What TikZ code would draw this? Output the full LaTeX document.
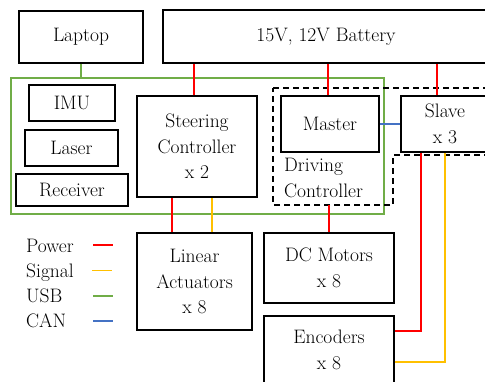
\documentclass[tikz,border=0pt]{standalone}
\usetikzlibrary{calc}
\definecolor{pwrc}{HTML}{FF0000}
\definecolor{sigc}{HTML}{FFC000}
\definecolor{usbc}{HTML}{70AD47}
\definecolor{canc}{HTML}{4472C4}
\tikzset{
  box/.style={draw=black, line width=1.5pt, inner sep=0pt, align=center, font=\fontsize{19.5}{25.5}\selectfont},
  txt/.style={inner sep=0pt, align=left, font=\fontsize{19.5}{25.5}\selectfont},
  pw/.style={draw=pwrc, line width=1.3pt},
  sg/.style={draw=sigc, line width=1.3pt},
  usb/.style={draw=usbc, line width=1.3pt},
  can/.style={draw=canc, line width=1.3pt},
  dbox/.style={draw=black, line width=1.5pt, dash pattern=on 6pt off 4pt}
}
\begin{document}
\begin{tikzpicture}[x=1pt,y=-1pt]
\useasboundingbox (0,0) rectangle (485,381);
\clip (0,0) rectangle (485,381);
\fill[white] (0,0) rectangle (485,381);
% USB area
\node[draw=usbc, line width=1.3pt, minimum width=373pt, minimum height=136pt, inner sep=0pt] (usbbox) at (197.5,146) {};
% driving controller dashed outline
\draw[dbox] (273,88) -- (500,88);
\draw[dbox] (500,155) -- (393,155) -- (393,205) -- (273,205) -- (273,88);
\coordinate (dcb) at (329,205);
% boxes
\node[box, minimum width=124pt, minimum height=52pt] (laptop) at (81,37) {Laptop};
\node[box, minimum width=326pt, minimum height=53pt] (batt) at (326,36.5) {15V, 12V Battery};
\node[box, minimum width=86pt, minimum height=36pt] (imu) at (72,103) {IMU};
\node[box, minimum width=93pt, minimum height=36pt] (laser) at (71.5,148) {Laser};
\node[box, minimum width=112pt, minimum height=32pt] (recv) at (72,190) {Receiver};
\node[box, minimum width=120pt, minimum height=101pt] (steer) at (197,146.5) {Steering\\Controller\\x 2};
\node[box, minimum width=98pt, minimum height=56pt] (master) at (330,124) {Master};
\node[box, minimum width=88pt, minimum height=56pt] (slave) at (445,124) {Slave\\x 3};
\node[txt, anchor=west] (dctext) at (284,178) {Driving\\Controller};
\node[box, minimum width=115pt, minimum height=97pt] (la) at (194.5,281.5) {Linear\\Actuators\\x 8};
\node[box, minimum width=130pt, minimum height=70pt] (dc) at (329,268) {DC Motors\\x 8};
\node[box, minimum width=130pt, minimum height=68pt] (enc) at (329,350) {Encoders\\x 8};
% connectors
\draw[usb] (laptop.south) -- (laptop.south |- usbbox.north);
\draw[pw] ([xshift=-3pt]steer.north) -- ([xshift=-3pt]steer.north |- batt.south);
\draw[pw] ([xshift=-2pt]master.north) -- ([xshift=-2pt]master.north |- batt.south);
\draw[pw] ([xshift=-8pt]slave.north) -- ([xshift=-8pt]slave.north |- batt.south);
\draw[can] (master.east) -- (slave.west);
\draw[pw] ([xshift=-22.5pt]la.north) -- ([xshift=-22.5pt]la.north |- steer.south);
\draw[sg] ([xshift=17.5pt]la.north) -- ([xshift=17.5pt]la.north |- steer.south);
\draw[pw] (dc.north) -- (dc.north |- dcb);
\draw[pw] ([xshift=-24pt]slave.south) |- ([yshift=19pt]enc.east);
\draw[sg] (slave.south) |- ([yshift=-12pt]enc.east);
% legend
\node[txt, anchor=base west] (lpw) at (26,252) {Power};
\node[txt, anchor=base west] (lsg) at (26,277) {Signal};
\node[txt, anchor=base west] (lusb) at (26,302) {USB};
\node[txt, anchor=base west] (lcan) at (26,327.5) {CAN};
\draw[pw] (93,245) -- (113,245);
\draw[sg] (92,270.5) -- (112,270.5);
\draw[usb] (93,296) -- (113,296);
\draw[can] (93,321) -- (113,321);
\end{tikzpicture}
\end{document}
